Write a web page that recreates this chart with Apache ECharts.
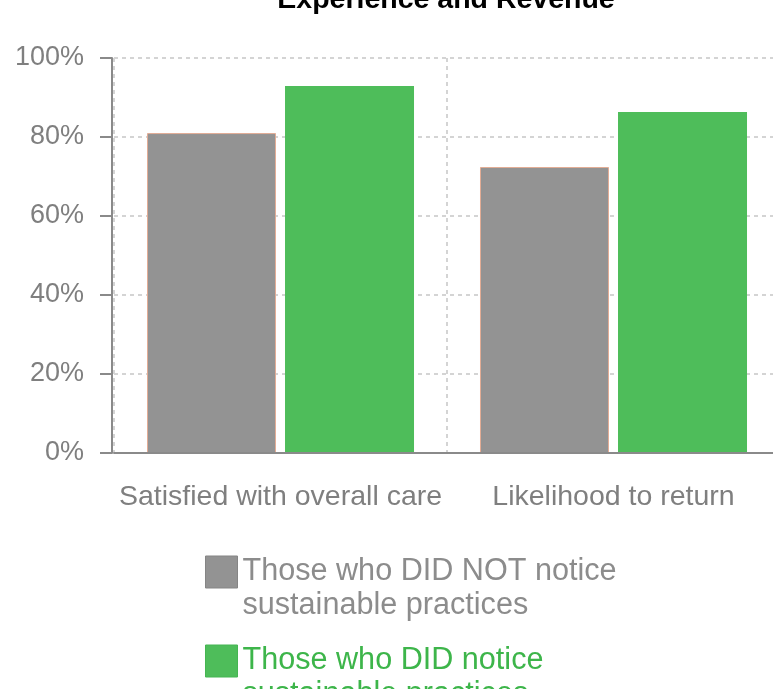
<!DOCTYPE html>
<html>
<head>
<meta charset="utf-8">
<script src="https://cdn.jsdelivr.net/npm/echarts@6/dist/echarts.min.js"></script>
<style>
  html, body { margin: 0; padding: 0; background: #fff; }
  #main { width: 773px; height: 689px; }
</style>
</head>
<body>
<div id="main"></div>
<script>
const categories = ['Satisfied with overall care', 'Likelihood to return'];
const seriesNames = ['Those who DID NOT notice\nsustainable practices', 'Those who DID notice\nsustainable practices'];
const didNotNotice = [81, 72.4];
const didNotice = [92.9, 86.3];
const yTicks = { min: 0, max: 100, interval: 20 };

const font = '"Liberation Sans", Arial, Helvetica, sans-serif';
const axisGray = '#8a8a8a';

var myChart = echarts.init(document.getElementById('main'), null, { renderer: 'canvas' });
myChart.setOption({
    animation: false,
    title: {
        text: 'Experience and Revenue',
        left: 441,
        top: -19,
        textAlign: 'center',
        textStyle: {
            fontFamily: font,
            fontSize: 28.5,
            fontWeight: 'bold',
            color: '#000'
        }
    },
    grid: {
        left: 114,
        right: -7,
        top: 58,
        bottom: 236,
        outerBoundsMode: 'none',
        containLabel: false
    },
    legend: {
        orient: 'vertical',
        left: 205,
        top: 521,
        height: 400,
        padding: 0,
        itemWidth: 32,
        itemHeight: 32,
        itemGap: -13,
        icon: 'rect',
        // blank first line so the first text line sits level with the icon
        formatter: function (name) {
            return '\n' + name;
        },
        textStyle: {
            fontFamily: font,
            fontSize: 30.6,
            lineHeight: 34
        },
        data: [
            {
                name: seriesNames[0],
                textStyle: { color: '#8c8c8c' },
                itemStyle: { borderColor: '#858585', borderWidth: 1 }
            },
            {
                name: seriesNames[1],
                textStyle: { color: '#3db54a' },
                itemStyle: { borderColor: '#45b552', borderWidth: 1 }
            }
        ]
    },
    xAxis: {
        type: 'category',
        data: categories,
        z: 5,
        axisLine: {
            lineStyle: { color: axisGray, width: 2 }
        },
        axisTick: {
            alignWithLabel: true,
            length: 8,
            lineStyle: { color: axisGray, width: 2 }
        },
        axisLabel: {
            interval: 0,
            margin: 30,
            fontFamily: font,
            fontSize: 28.5,
            color: '#7f7f7f'
        },
        splitLine: {
            show: true,
            lineStyle: { color: '#d4d4d4', width: 2, type: [4, 4] }
        }
    },
    yAxis: {
        type: 'value',
        min: yTicks.min,
        max: yTicks.max,
        interval: yTicks.interval,
        offset: 2,
        axisLine: {
            show: true,
            lineStyle: { color: axisGray, width: 2 }
        },
        axisTick: {
            show: true,
            length: 12,
            lineStyle: { color: axisGray, width: 2 }
        },
        axisLabel: {
            margin: 28,
            fontFamily: font,
            fontSize: 27,
            color: '#7f7f7f',
            formatter: '{value}%'
        },
        splitLine: {
            show: true,
            lineStyle: { color: '#d4d4d4', width: 2, type: [4, 4] }
        }
    },
    series: [
        {
            name: seriesNames[0],
            type: 'bar',
            data: didNotNotice,
            barWidth: 129,
            barGap: '7%',
            itemStyle: {
                color: '#939393',
                borderColor: '#e3ad95',
                borderWidth: 1
            }
        },
        {
            name: seriesNames[1],
            type: 'bar',
            data: didNotice,
            barWidth: 129,
            barGap: '7%',
            itemStyle: {
                color: '#4ebd5a'
            }
        }
    ]
});
</script>
</body>
</html>
